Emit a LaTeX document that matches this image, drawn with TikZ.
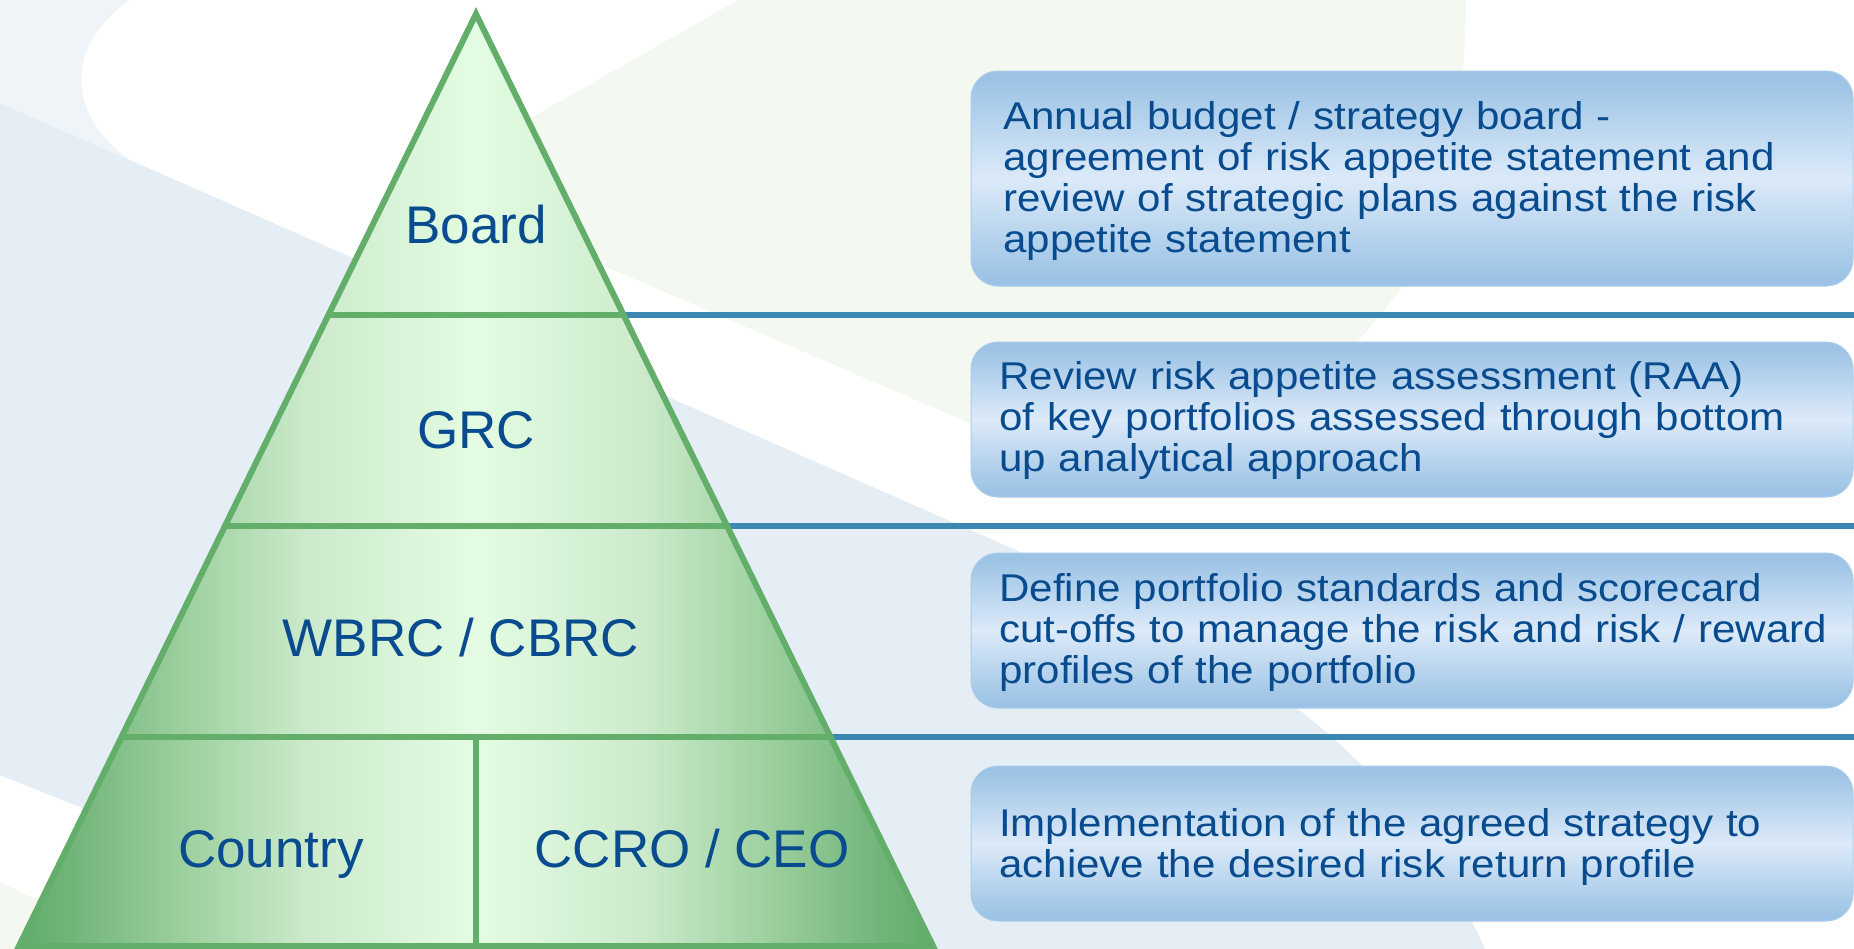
\documentclass[tikz,border=0pt]{standalone}
\usepackage{fontspec}
\setmainfont{Liberation Sans}
\newfontfamily\boxfont[FakeStretch=1.088]{Liberation Sans}
\usetikzlibrary{calc}
\setlength{\parindent}{0pt}

% palette
\definecolor{bgsky}{HTML}{EFF4F8}
\definecolor{bgmist}{HTML}{E6EEF5}
\definecolor{bgleaf}{HTML}{F3F8F1}
\definecolor{pyredge}{HTML}{62AE6A}
\definecolor{pyrA}{HTML}{E3FCE3}
\definecolor{pyrB}{HTML}{CDEBCC}
\definecolor{pyrC}{HTML}{A0D2A2}
\definecolor{pyrD}{HTML}{72B57A}
\definecolor{pyrE}{HTML}{60AD69}
\definecolor{rulecol}{HTML}{3B88B3}
\definecolor{boxdark}{HTML}{9CC3E5}
\definecolor{boxlight}{HTML}{DCEAF9}
\definecolor{boxrim}{HTML}{A9CCEB}
\definecolor{ink}{HTML}{084B8E}

% green pyramid: dark at both flanks, pale in the middle
\pgfdeclarehorizontalshading{pyrfill}{100bp}{color(0bp)=(pyrE); color(25bp)=(pyrE); color(28bp)=(pyrD); color(34.5bp)=(pyrC); color(41bp)=(pyrB); color(50bp)=(pyrA); color(59bp)=(pyrB); color(65.5bp)=(pyrC); color(72bp)=(pyrD); color(75bp)=(pyrE); color(100bp)=(pyrE)}
% blue panels: dark top and bottom, pale band in the middle
\pgfdeclareverticalshading{boxfill}{100bp}{color(0bp)=(boxdark); color(27bp)=(boxdark); color(50bp)=(boxlight); color(73bp)=(boxdark); color(100bp)=(boxdark)}

\tikzset{
  panel/.style={shade, shading=boxfill, draw=boxrim, line width=1pt,
    rounded corners=27pt, minimum width=882pt, inner sep=0pt, outer sep=0pt,
    anchor=north west},
  panelText/.style={anchor=north west, inner sep=0pt, text width=900pt,
    align=left, text=ink, font=\boxfont\fontsize{38.7}{41}\selectfont},
  tier/.style={text=ink, font=\fontsize{53}{60}\selectfont, inner sep=0pt,
    anchor=base},
  tierline/.style={draw=pyredge, line width=6pt},
  levelrule/.style={draw=rulecol, line width=6pt},
}

\begin{document}
\begin{tikzpicture}[x=1pt,y=-1pt]
\useasboundingbox (0,0) rectangle (1854,948);

% ---- soft background swooshes ----
\begin{scope}
  \clip (0,0) rectangle (1854,948);
  \fill[white] (0,0) rectangle (1854,948);
  \fill[bgsky] (0,0) -- (130,0)
    .. controls (70,40) and (60,110) .. (130,160)
    .. controls (200,205) and (280,235) .. (360,261) -- (0,103) -- cycle;
  \fill[bgmist] (0,103) -- (1000,543)
    .. controls (1300,675) and (1411,780) .. (1490,960)
    -- (462,960) -- (0,775) -- cycle;
  \fill[bgleaf] (480,147) -- (738,0) -- (1466,0)
    .. controls (1464,140) and (1440,240) .. (1403,286)
    .. controls (1390,303) and (1375,322) .. (1357,342)
    -- (1100,479) -- (560,247) -- cycle;
  \fill[bgleaf] (0,882) -- (140,950) -- (0,950) -- cycle;
\end{scope}

% ---- pyramid geometry ----
\coordinate (apex) at (476,14);
\coordinate (bl) at (19,946);
\coordinate (br) at (933,946);
\coordinate (rightedge) at (1854,0);
\coordinate (l1) at ($(apex)!0.323!(bl)$);
\coordinate (r1) at ($(apex)!0.323!(br)$);
\coordinate (l2) at ($(apex)!0.5494!(bl)$);
\coordinate (r2) at ($(apex)!0.5494!(br)$);
\coordinate (l3) at ($(apex)!0.7758!(bl)$);
\coordinate (r3) at ($(apex)!0.7758!(br)$);

% level rules running out to the right
\draw[levelrule] (r1) -- (r1 -| rightedge);
\draw[levelrule] (r2) -- (r2 -| rightedge);
\draw[levelrule] (r3) -- (r3 -| rightedge);

% pyramid body, tiers and outline
\shade[shading=pyrfill] (apex) -- (bl) -- (br) -- cycle;
\draw[tierline] (l1) -- (r1);
\draw[tierline] (l2) -- (r2);
\draw[tierline] (l3) -- (r3);
\draw[tierline] (apex |- r3) -- (apex |- bl);
\draw[tierline, line join=miter] (apex) -- (bl) -- (br) -- cycle;

% tier labels
\node[tier] (board) at (476,243) {Board};
\node[tier] (grc) at (476,448) {GRC};
\node[tier] (wbrc) at (461,656) {WBRC / CBRC};
\node[tier] (country) at (271,867) {Country};
\node[tier] (ccro) at (692,867) {CCRO / CEO};

% ---- description panels ----
\node[panel, minimum height=215pt] (bx1) at (971,71) {};
\node[panel, minimum height=155pt] (bx2) at (971,342) {};
\node[panel, minimum height=155pt] (bx3) at (971,553) {};
\node[panel, minimum height=155pt] (bx4) at (971,766) {};

\node[panelText] (tx1) at ($(bx1.north west)+(32,26)$)
  {\rule{0pt}{32pt}Annual budget / strategy board -\\
   agreement of risk appetite statement and\\
   review of strategic plans against the risk\\
   appetite statement};
\node[panelText] (tx2) at ($(bx2.north west)+(28,15)$)
  {\rule{0pt}{32pt}Review risk appetite assessment (RAA)\\
   of key portfolios assessed through bottom\\
   up analytical approach};
\node[panelText] (tx3) at ($(bx3.north west)+(28,16)$)
  {\rule{0pt}{32pt}Define portfolio standards and scorecard\\
   cut-offs to manage the risk and risk / reward\\
   profiles of the portfolio};
\node[panelText] (tx4) at ($(bx4.north west)+(28,38)$)
  {\rule{0pt}{32pt}Implementation of the agreed strategy to\\
   achieve the desired risk return profile};
\end{tikzpicture}
\end{document}
